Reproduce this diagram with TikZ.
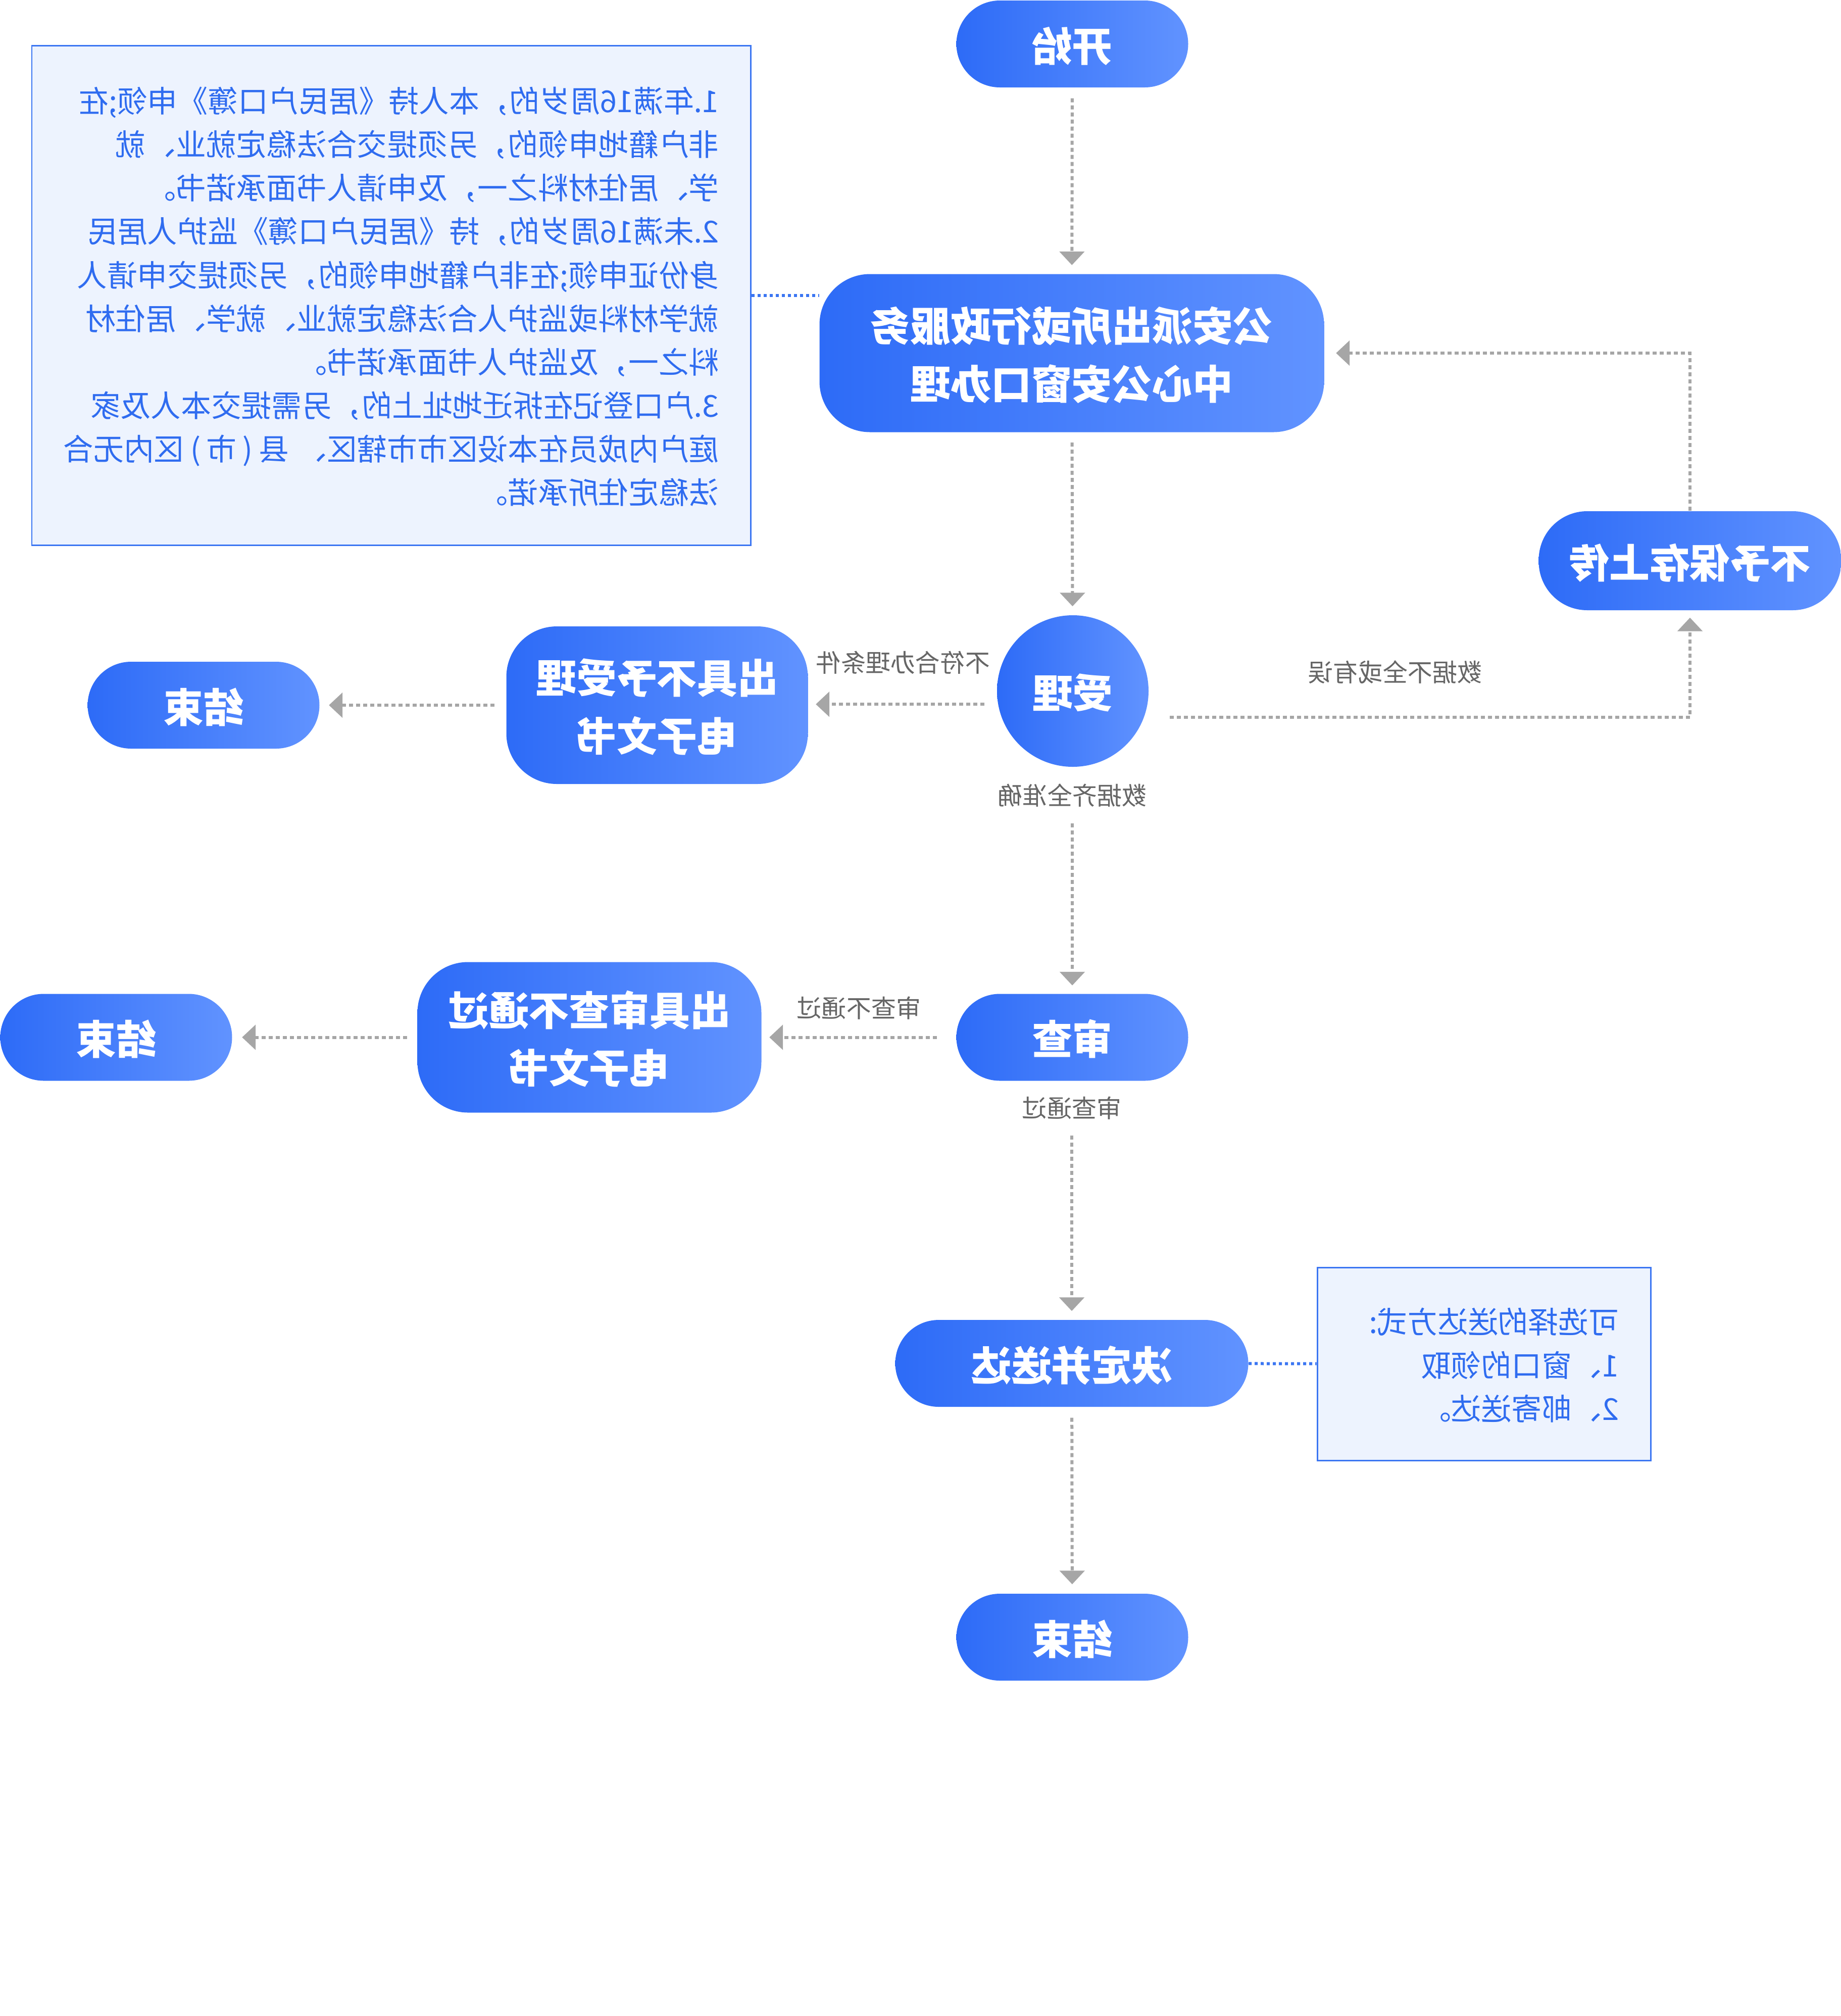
\documentclass[tikz,border=0pt]{standalone}
\usepackage{fontspec}
\IfFontExistsTF{Noto Sans CJK SC Black}
    {\setmainfont{Noto Sans CJK SC}[BoldFont={Noto Sans CJK SC Black}]}
    {\setmainfont{Noto Sans CJK SC}}
\usetikzlibrary{arrows.meta}

\definecolor{bluedark}{HTML}{2D6BF7}
\definecolor{bluelight}{HTML}{6193FF}
\definecolor{notefill}{HTML}{EDF3FE}
\definecolor{noteline}{HTML}{3B76F2}
\definecolor{notetext}{HTML}{2F6CF0}
\definecolor{arrowgray}{HTML}{A6A6A6}
\definecolor{labelgray}{HTML}{666666}

% mirrored text, as the chart is printed
\newcommand{\flip}[2][c]{\reflectbox{\raisebox{-0.14em}[\height][\depth]{%
    \begin{tabular}{@{}#1@{}}#2\end{tabular}}}}

\begin{document}
\begin{tikzpicture}[
        box/.style={left color=bluedark, right color=bluelight, draw=none, text=white,
            font=\fontsize{22.7pt}{32.6pt}\selectfont\bfseries, inner sep=0pt},
        term/.style={box, rounded corners=0.86cm, minimum width=4.59cm, minimum height=1.72cm},
        proc/.style={box, rounded corners=1cm, minimum height=3.1cm},
        note/.style={fill=notefill, draw=noteline, line width=0.03cm, text=notetext,
            font=\fontsize{17pt}{24.5pt}\selectfont, inner sep=0pt},
        elabel/.style={text=labelgray, font=\fontsize{14pt}{17pt}\selectfont, inner sep=0pt},
        flow/.style={draw=arrowgray, line width=0.06cm, dash pattern=on 0.08cm off 0.06cm,
            -{Triangle[width=0.49cm, length=0.27cm]}},
        notelink/.style={draw=noteline, line width=0.06cm, dash pattern=on 0.06cm off 0.06cm},
    ]
    \useasboundingbox (0,0) rectangle (36.45,-39.91);

    % main column
    \node[term] (start) at (21.23,-0.87) {\flip{开始}};
    \node[proc, minimum width=9.99cm, minimum height=3.13cm] (window) at (21.22,-6.99)
        {\flip{公安派出所或行政服务\\中心公安窗口办理}};
    \node[box, circle, minimum size=3cm] (shouli) at (21.24,-13.68) {\flip{受理}};
    \node[elabel] (okdata) at (21.23,-15.75) {\flip{数据齐全准确}};
    \node[term] (shencha) at (21.23,-20.535) {\flip{审查}};
    \node[elabel] (passlbl) at (21.22,-21.94) {\flip{审查通过}};
    \node[term, minimum width=6.99cm] (decide) at (21.22,-26.99) {\flip{决定并送达}};
    \node[term] (end3) at (21.23,-32.41) {\flip{结束}};

    % side branches
    \node[term, minimum width=5.99cm, minimum height=1.96cm, rounded corners=0.96cm] (buyu)
        at (33.46,-11.10) {\flip{不予保存上传}};
    \node[proc, minimum width=5.97cm, minimum height=3.12cm] (buyushouli) at (13.01,-13.96)
        {\flip{出具不予受理\\电子文书}};
    \node[term] (end1) at (4.03,-13.96) {\flip{结束}};
    \node[proc, minimum width=6.81cm, minimum height=2.98cm] (butongguo) at (11.67,-20.535)
        {\flip{出具审查不通过\\电子文书}};
    \node[term] (end2) at (2.30,-20.535) {\flip{结束}};

    % notes
    \node[note, minimum width=14.23cm, minimum height=9.89cm, text width=12.99cm, align=right]
        (note1) at (7.745,-5.845) {\flip[l]{%
        1.年满16周岁的，本人持《居民户口簿》申领;在\\
        非户籍地申领的，另须提交合法稳定就业、就\\
        学、居住材料之一，及申请人书面承诺书。\\
        2.未满16周岁的，持《居民户口簿》监护人居民\\
        身份证申领;在非户籍地申领的，另须提交申请人\\
        就学材料或监护人合法稳定就业、就学、居住材\\
        料之一，及监护人书面承诺书。\\
        3.户口登记在拆迁地址上的，另需提交本人及家\\
        庭户内成员在本设区市市辖区、\hspace{0.25em}县\kern0.2em(\kern0.2em市\kern0.2em)\kern0.2em区内无合\\
        法稳定住所承诺。}};
    \node[note, minimum width=6.60cm, minimum height=3.82cm, text width=5.34cm, align=right]
        (note2) at (29.38,-27.00) {\flip[l]{%
        可选择的送达方式:\\
        1、窗口的领取\\
        2、邮寄送达。}};

    % connectors
    \draw[flow, shorten <=0.21cm, shorten >=0.17cm] (start) -- (window);
    \draw[flow, shorten <=0.2cm, shorten >=0.17cm] (window) -- (shouli);
    \draw[flow, shorten <=0.24cm, shorten >=0.16cm] (okdata) -- (shencha);
    \draw[flow, shorten <=0.23cm, shorten >=0.17cm] (passlbl) -- (decide);
    \draw[flow, shorten <=0.21cm, shorten >=0.18cm] (decide) -- (end3);

    \draw[flow, shorten <=0.27cm, shorten >=0.15cm] (shouli.190) -- (shouli.190 -| buyushouli.east)
        node[elabel, midway, above=0.5cm] (nofit) {\flip{不符合办理条件}};
    \draw[flow, shorten <=0.23cm, shorten >=0.18cm] (buyushouli) -- (end1);
    \draw[flow, shorten <=0.38cm, shorten >=0.15cm] (shencha) -- (butongguo)
        node[elabel, midway, above=0.25cm] (nopass) {\flip{审查不通过}};
    \draw[flow, shorten <=0.2cm, shorten >=0.19cm] (butongguo) -- (end2);

    \draw[flow, shorten <=0.5cm, shorten >=0.14cm] (shouli.-20) -| (buyu.south)
        node[elabel, pos=0.23, above=0.56cm] (baddata) {\flip{数据不全或有误}};
    \draw[flow, shorten >=0.23cm] (buyu.north) |- (window.east);

    \draw[notelink] (note1.east) -- (note1.east -| window.west);
    \draw[notelink] (decide) -- (note2);
\end{tikzpicture}
\end{document}
